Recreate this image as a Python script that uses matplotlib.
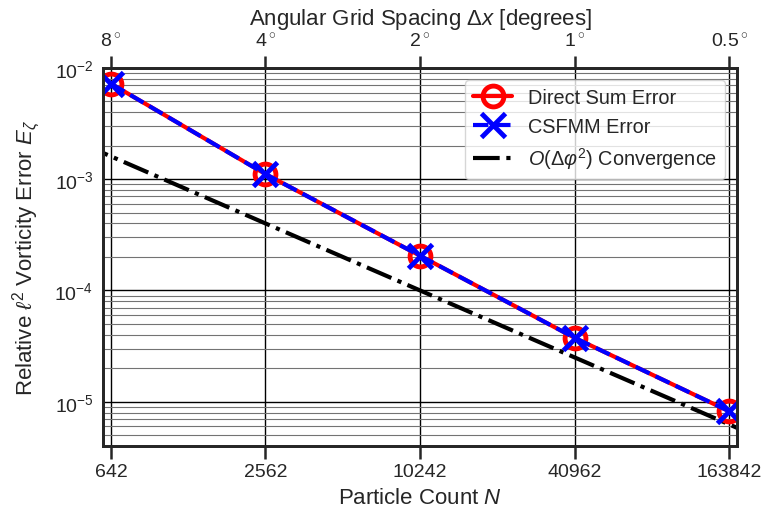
import matplotlib
matplotlib.use("Agg")
import matplotlib.pyplot as plt
import seaborn as sns

# particle counts and the matching angular spacing
particle_counts = [642, 2562, 10242, 40962, 163842]
spacing_labels = [r"8$^\circ$", r"4$^\circ$", r"2$^\circ$", r"1$^\circ$", r"0.5$^\circ$"]

# errors
direct_sum_err = [7.2e-3, 1.11e-3, 2.05e-4, 3.75e-5, 8.2e-6]
csfmm_err = [7.2e-3, 1.11e-3, 2.05e-4, 3.75e-5, 8.2e-6]

# reference second order line (runs past both axis edges)
conv_counts = [500, 642, 2562, 10242, 40962, 163842, 200000]
conv_err = [2.05e-3, 1.6e-3, 4.0e-4, 1.0e-4, 2.5e-5, 6.25e-6, 5.1e-6]

sns.set_style("ticks")
plt.rcParams["font.family"] = ["Liberation Sans", "DejaVu Sans"]
plt.rcParams["mathtext.fontset"] = "custom"
plt.rcParams["mathtext.rm"] = "Liberation Sans"
plt.rcParams["mathtext.it"] = "Liberation Sans:italic"
plt.rcParams["font.size"] = 14

fig = plt.figure(figsize=(7.64, 5.1), dpi=100)
ax = fig.add_axes([0.135, 0.1235, 0.83, 0.7415])

ax.plot(particle_counts, direct_sum_err, "-o", color="red", lw=3, ms=15,
        mfc="none", mec="red", mew=3.5, label="Direct Sum Error", zorder=3)
ax.plot(particle_counts, csfmm_err, "--x", color="blue", lw=3, ms=17,
        mew=3.5, label="CSFMM Error", zorder=4)
ax.plot(conv_counts, conv_err, "-.", color="black", lw=3,
        label=r"$O(\Delta\varphi^2)$ Convergence", zorder=2)

ax.set_xscale("log")
ax.set_yscale("log")
xlo = particle_counts[0] / 1.074
xhi = particle_counts[-1] * 1.074
ax.set_xlim(xlo, xhi)
ax.set_ylim(4e-6, 1e-2)

ax.set_xticks(particle_counts)
ax.set_xticklabels([str(n) for n in particle_counts])
ax.xaxis.set_minor_locator(matplotlib.ticker.NullLocator())
ax.tick_params(axis="x", which="major", length=9, width=1.8, direction="out", labelsize=14)
ax.tick_params(axis="y", which="both", length=0, labelsize=14, pad=7)

ax.grid(True, which="major", color="black", lw=1.0)
ax.grid(True, which="minor", axis="y", color="0.45", lw=0.8)

for s in ax.spines.values():
    s.set_linewidth(2)
    s.set_color("0.15")

ax.set_xlabel(r"Particle Count $N$", fontsize=16, labelpad=5)
ax.set_ylabel(r"Relative $\ell^2$ Vorticity Error $E_\zeta$", fontsize=16, labelpad=8)

top = ax.twiny()
top.set_xscale("log")
top.set_xlim(xlo, xhi)
top.set_xticks(particle_counts)
top.set_xticklabels(spacing_labels)
top.xaxis.set_minor_locator(matplotlib.ticker.NullLocator())
top.tick_params(axis="x", length=9, width=1.8, direction="out", labelsize=14)
top.set_xlabel(r"Angular Grid Spacing $\Delta x$ [degrees]", fontsize=16, labelpad=6)
for s in top.spines.values():
    s.set_linewidth(2)
    s.set_color("0.15")

ax.legend(loc="upper right", fontsize=14.3, frameon=True, fancybox=True,
          framealpha=0.8, edgecolor="0.8", borderaxespad=0.6)

fig.savefig("out.png", dpi=100)
